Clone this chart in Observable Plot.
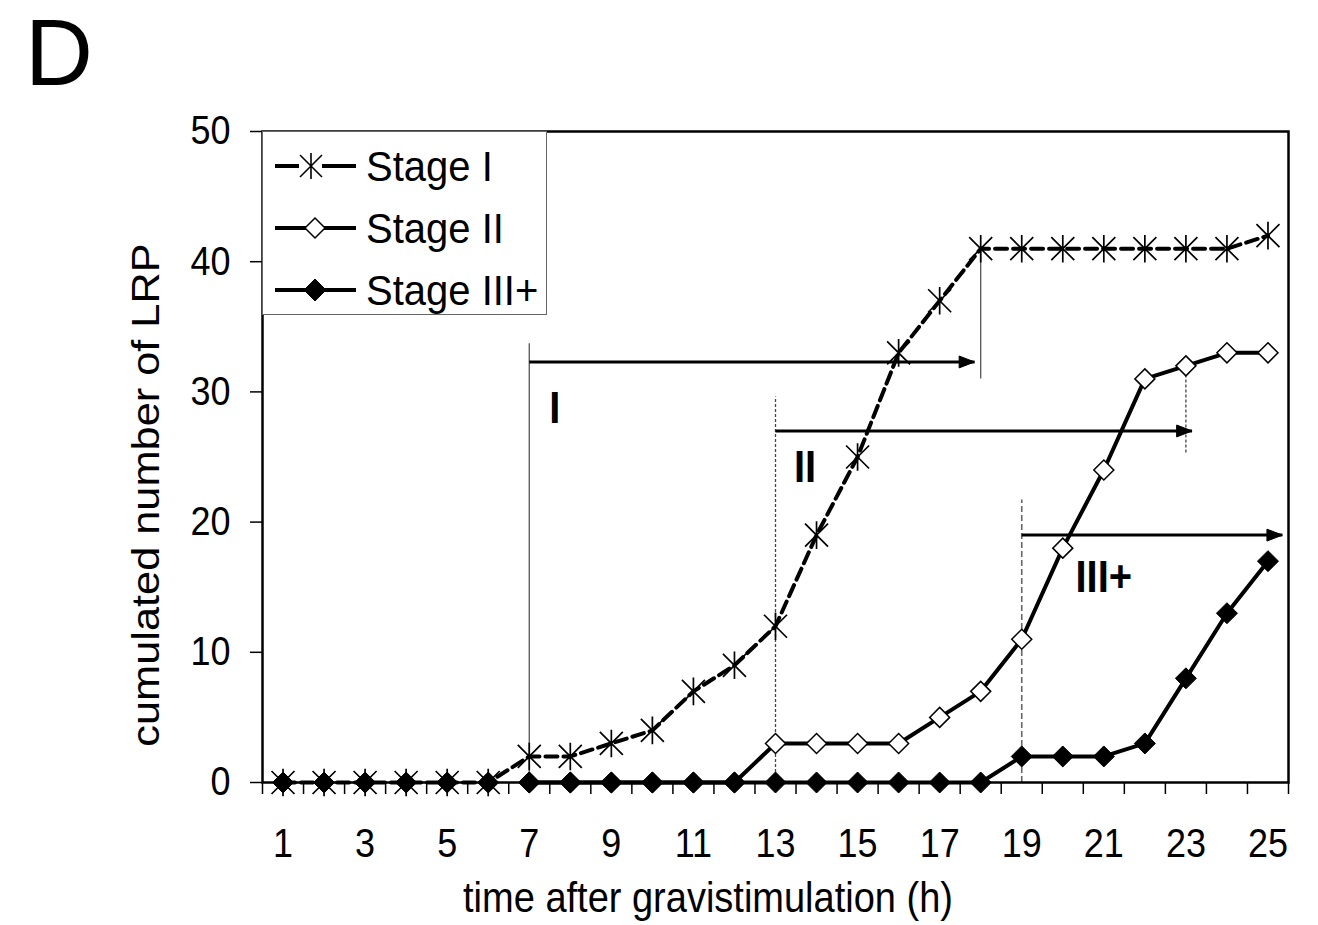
<!DOCTYPE html>
<html>
<head>
<meta charset="utf-8">
<script src="https://cdn.jsdelivr.net/npm/d3@7"></script>
<script src="https://cdn.jsdelivr.net/npm/@observablehq/plot@0.6"></script>
<style>
  body { margin: 0; background: #fff; }
  #wrap { position: relative; width: 1318px; height: 925px; font-family: "Liberation Sans", Arial, sans-serif; color: #000; overflow: hidden; }
  #wrap svg.plot { position: absolute; left: 0; top: 0; }
  .panel { position: absolute; left: 25px; top: 6px; font-size: 94px; line-height: 1; }
  .ytitle { position: absolute; width: 700px; left: -204px; top: 476px; height: 38px; line-height: 38px; font-size: 38px; text-align: center; transform: rotate(-90deg) scaleX(1.14); white-space: nowrap; }
  .xtitle { position: absolute; left: 0; width: 1416px; top: 880px; font-size: 38px; line-height: 1; text-align: center; white-space: nowrap; transform: scaleY(1.1); transform-origin: 50% 80%; }
  .legend { position: absolute; left: 262px; top: 131px; width: 285px; height: 184px; border: 1.5px solid #666; background: #fff; box-sizing: border-box; padding-top: 3px; }
  .legend .row { height: 62px; display: flex; align-items: center; }
  .legend .row svg { margin-left: 11px; margin-right: 8px; }
  .legend .row span { font-size: 40px; line-height: 1; display: inline-block; transform: scaleY(1.08); }
</style>
</head>
<body>
<div id="wrap"></div>
<script>
// ---- data ----
const hours = [1,2,3,4,5,6,7,8,9,10,11,12,13,14,15,16,17,18,19,20,21,22,23,24,25];
const stageI   = [0,0,0,0,0,0,2,2,3,4,7,9,12,19,25,33,37,41,41,41,41,41,41,41,42];
const stageII  = [null,null,null,null,null,null,0,0,0,0,0,0,3,3,3,3,5,7,11,18,24,31,32,33,33];
const stageIII = [0,0,0,0,0,0,0,0,0,0,0,0,0,0,0,0,0,0,2,2,2,3,8,13,17];
const stageIIILineFrom = 7;
const seriesNames = ["Stage I", "Stage II", "Stage III+"];

const xTickLabels = [1,3,5,7,9,11,13,15,17,19,21,23,25];
const xTickMarks = [0.5,1.5,2.5,3.5,4.5,5.5,6.5,7.5,8.5,9.5,10.5,11.5,12.5,13.5,14.5,15.5,16.5,17.5,18.5,19.5,20.5,21.5,22.5,23.5,24.5,25.5];
const yTicks = [0,10,20,30,40,50];

// phase annotations
const phaseNames     = ["I", "II", "III+"];
const phaseStartX    = [7, 13, 19];
const phaseStartTop  = [33.7, 29.6, 21.7];
const phaseArrowY    = [32.3, 27, 19];
const phaseArrowEnd  = [17.85, 23.15, 25.35];
const phaseEndX      = [18, 23];
const phaseEndLow    = [31, 25.3];
const phaseEndHigh   = [41, 32];
const phaseLabelX    = [7.62, 13.72, 21.0];
const phaseLabelY    = [28.7, 24.2, 15.7];
const startStyles    = [{dash: null, stroke: "#555", w: 1.3}, {dash: "3,2", stroke: "#444", w: 1.3}, {dash: "6,3", stroke: "#666", w: 1.6}];
const endStyles      = [{dash: null, stroke: "#555", w: 1.3}, {dash: "3,2", stroke: "#444", w: 1.3}];

// ---- tables ----
const rowsI   = hours.map((h, i) => ({hour: h, value: stageI[i]}));
const rowsII  = hours.map((h, i) => ({hour: h, value: stageII[i]})).filter(d => d.value != null);
const rowsIII = hours.map((h, i) => ({hour: h, value: stageIII[i]}));
const rowsIIILine = rowsIII.filter(d => d.hour >= stageIIILineFrom);

// ---- symbols ----
const starSym = {draw(ctx, size) {
  const r = Math.sqrt(size / Math.PI);
  ctx.moveTo(0, -r * 1.2); ctx.lineTo(0, r * 1.2);
  ctx.moveTo(-r, -r); ctx.lineTo(r, r);
  ctx.moveTo(-r, r); ctx.lineTo(r, -r);
}};
const diamondSym = {draw(ctx, size) {
  const r = Math.sqrt(size / Math.PI);
  ctx.moveTo(0, -r); ctx.lineTo(r, 0); ctx.lineTo(0, r); ctx.lineTo(-r, 0); ctx.closePath();
}};
const headSym = {draw(ctx, size) {
  const r = Math.sqrt(size / Math.PI);
  ctx.moveTo(0, 0); ctx.lineTo(-2.2 * r, -0.85 * r); ctx.lineTo(-2.2 * r, 0.85 * r); ctx.closePath();
}};

const font = '"Liberation Sans", Arial, sans-serif';

const startRules = phaseStartX.map((x, i) => Plot.ruleX([x], {
  y1: 0, y2: phaseStartTop[i], stroke: startStyles[i].stroke, strokeWidth: startStyles[i].w,
  strokeDasharray: startStyles[i].dash || undefined
}));
const endRules = phaseEndX.map((x, i) => Plot.ruleX([x], {
  y1: phaseEndLow[i], y2: phaseEndHigh[i], stroke: endStyles[i].stroke, strokeWidth: endStyles[i].w,
  strokeDasharray: endStyles[i].dash || undefined
}));
const arrows = phaseNames.map((n, i) => ({x1: phaseStartX[i], x2: phaseArrowEnd[i], y: phaseArrowY[i], label: n, lx: phaseLabelX[i], ly: phaseLabelY[i]}));

const chart = Plot.plot({
  width: 1318, height: 925,
  marginLeft: 262, marginRight: 30, marginTop: 131, marginBottom: 143,
  x: {domain: [0.5, 25.5]},
  y: {domain: [0, 50]},
  style: {fontFamily: font, background: "white", color: "black", overflow: "visible"},
  marks: [
    Plot.axisX({ticks: xTickMarks, tickSize: 12, tickFormat: () => "", label: null, strokeWidth: 1.5}),
    Plot.axisX({ticks: xTickLabels, tickSize: 0, tickPadding: 46, fontSize: 36, label: null}),
    Plot.axisY({ticks: yTicks, tickSize: 12, tickPadding: 20, fontSize: 36, label: null, strokeWidth: 1.5}),
    ...startRules,
    ...endRules,
    Plot.link(arrows, {x1: "x1", x2: "x2", y1: "y", y2: "y", stroke: "black", strokeWidth: 3}),
    Plot.dot(arrows, {x: "x2", y: "y", symbol: headSym, r: 7, fill: "black", stroke: "black", strokeWidth: 1}),
    Plot.text(arrows, {x: "lx", y: "ly", text: "label", fontSize: 40, fontWeight: "bold", fill: "black"}),
    // Stage I
    Plot.line(rowsI, {x: "hour", y: "value", stroke: "black", strokeWidth: 4, strokeDasharray: "12,6"}),
    Plot.dot(rowsI, {x: "hour", y: "value", symbol: starSym, r: 11.5, stroke: "black", strokeWidth: 1.7, fill: "none"}),
    // Stage II
    Plot.line(rowsII, {x: "hour", y: "value", stroke: "black", strokeWidth: 4}),
    Plot.dot(rowsII, {x: "hour", y: "value", symbol: diamondSym, r: 10, fill: "white", stroke: "black", strokeWidth: 1.5}),
    // Stage III+
    Plot.line(rowsIIILine, {x: "hour", y: "value", stroke: "black", strokeWidth: 4}),
    Plot.dot(rowsIII, {x: "hour", y: "value", symbol: diamondSym, r: 10.5, fill: "black", stroke: "black", strokeWidth: 1}),
    Plot.frame({stroke: "black", strokeWidth: 2.5})
  ]
});
chart.classList.add("plot");
// the reference typeface is drawn slightly taller than it is wide
chart.querySelectorAll("text").forEach(t => {
  const tr = t.getAttribute("transform") || "";
  t.setAttribute("transform", tr + " scale(1,1.12)");
});

const wrap = document.getElementById("wrap");
wrap.appendChild(chart);

const panel = document.createElement("div");
panel.className = "panel"; panel.textContent = "D";
wrap.appendChild(panel);

const yt = document.createElement("div");
yt.className = "ytitle"; yt.textContent = "cumulated number of LRP";
wrap.appendChild(yt);

const xt = document.createElement("div");
xt.className = "xtitle"; xt.textContent = "time after gravistimulation (h)";
wrap.appendChild(xt);

// legend
const swatches = [
  `<svg width="84" height="30"><line x1="1" y1="15" x2="25" y2="15" stroke="black" stroke-width="4"/><line x1="48" y1="15" x2="82" y2="15" stroke="black" stroke-width="4"/><path d="M37,2V28M26,4L48,26M26,26L48,4" stroke="black" stroke-width="1.6" fill="none"/></svg>`,
  `<svg width="84" height="30"><line x1="1" y1="15" x2="82" y2="15" stroke="black" stroke-width="4"/><path d="M41,5L51,15L41,25L31,15Z" fill="white" stroke="black" stroke-width="1.5"/></svg>`,
  `<svg width="84" height="30"><line x1="1" y1="15" x2="82" y2="15" stroke="black" stroke-width="4"/><path d="M41,4L52,15L41,26L30,15Z" fill="black" stroke="black" stroke-width="1"/></svg>`
];
const legend = document.createElement("div");
legend.className = "legend";
legend.innerHTML = seriesNames.map((n, i) => `<div class="row">${swatches[i]}<span>${n}</span></div>`).join("");
wrap.appendChild(legend);
</script>
</body>
</html>
